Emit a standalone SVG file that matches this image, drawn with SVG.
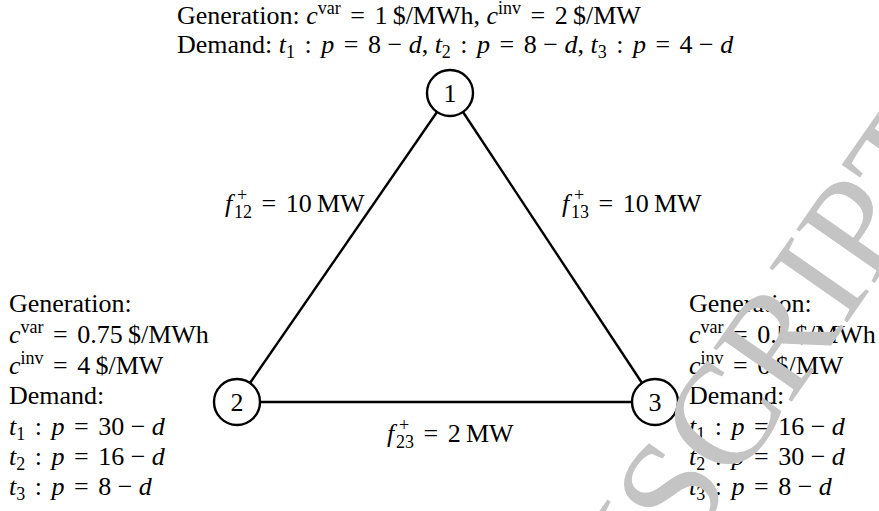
<svg xmlns="http://www.w3.org/2000/svg" width="879" height="511" viewBox="0 0 879 511">
<style>
.t{font-family:"Liberation Serif","Times New Roman",serif;font-size:26px;fill:#000}
.i{font-style:italic}
.s{font-size:18px}
.node circle{fill:#fff;stroke:#000;stroke-width:2.4}
.edges line{stroke:#000;stroke-width:2.4}
.wm{font-family:"Liberation Serif","Times New Roman",serif;font-size:145px;fill:#c4c4c4}
</style>
<rect width="879" height="511" fill="#fff"/>
<g id="edges" class="edges">
<line x1="437" y1="112" x2="250" y2="383"/>
<line x1="463" y1="112" x2="642" y2="383"/>
<line x1="260" y1="402" x2="632" y2="402"/>
</g>
<g id="edge-labels">
<text class="t" x="225" y="212"><tspan class="i">f</tspan><tspan class="s" x="237" dy="-11">+</tspan><tspan class="s" x="234" dy="17">12</tspan><tspan dy="-6" dx="3"> =</tspan><tspan dx="3"> 10&#8201;MW</tspan></text>
<text class="t" x="562" y="212"><tspan class="i">f</tspan><tspan class="s" x="574" dy="-11">+</tspan><tspan class="s" x="571" dy="17">13</tspan><tspan dy="-6" dx="3"> =</tspan><tspan dx="3"> 10&#8201;MW</tspan></text>
<text class="t" x="387" y="442"><tspan class="i">f</tspan><tspan class="s" x="399" dy="-11">+</tspan><tspan class="s" x="396" dy="17">23</tspan><tspan dy="-6" dx="3"> =</tspan><tspan dx="3"> 2&#8201;MW</tspan></text>
</g>
<g id="node1" class="node">
<circle cx="450" cy="93" r="23"/>
<text class="t" x="450" y="102" text-anchor="middle">1</text>
<text class="t" x="177" y="24">Generation: <tspan class="i">c</tspan><tspan class="s" dy="-10">var</tspan><tspan dy="10" dx="3"> =</tspan><tspan dx="3"> 1&#8201;$/MWh, </tspan><tspan class="i">c</tspan><tspan class="s" dy="-10">inv</tspan><tspan dy="10" dx="3"> =</tspan><tspan dx="3"> 2&#8201;$/MW</tspan></text>
<text class="t" x="177" y="53">Demand: <tspan class="i">t</tspan><tspan class="s" dy="5">1</tspan><tspan dy="-5" dx="3"> :</tspan><tspan dx="3"> </tspan><tspan class="i">p</tspan><tspan dx="3"> =</tspan><tspan dx="3"> 8</tspan> − <tspan class="i">d</tspan>, <tspan class="i">t</tspan><tspan class="s" dy="5">2</tspan><tspan dy="-5" dx="3"> :</tspan><tspan dx="3"> </tspan><tspan class="i">p</tspan><tspan dx="3"> =</tspan><tspan dx="3"> 8</tspan> − <tspan class="i">d</tspan>, <tspan class="i">t</tspan><tspan class="s" dy="5">3</tspan><tspan dy="-5" dx="3"> :</tspan><tspan dx="3"> </tspan><tspan class="i">p</tspan><tspan dx="3"> =</tspan><tspan dx="3"> 4</tspan> − <tspan class="i">d</tspan></text>
</g>
<g id="node2" class="node">
<circle cx="237" cy="402" r="23"/>
<text class="t" x="237" y="411" text-anchor="middle">2</text>
<text class="t" x="9" y="312">Generation:</text>
<text class="t" x="9" y="343"><tspan class="i">c</tspan><tspan class="s" dy="-10">var</tspan><tspan dy="10" dx="3"> =</tspan><tspan dx="3"> 0.75&#8201;$/MWh</tspan></text>
<text class="t" x="9" y="374"><tspan class="i">c</tspan><tspan class="s" dy="-10">inv</tspan><tspan dy="10" dx="3"> =</tspan><tspan dx="3"> 4&#8201;$/MW</tspan></text>
<text class="t" x="9" y="404">Demand:</text>
<text class="t" x="9" y="435"><tspan class="i">t</tspan><tspan class="s" dy="5">1</tspan><tspan dy="-5" dx="3"> :</tspan><tspan dx="3"> </tspan><tspan class="i">p</tspan><tspan dx="3"> =</tspan><tspan dx="3"> 30</tspan> − <tspan class="i">d</tspan></text>
<text class="t" x="9" y="465"><tspan class="i">t</tspan><tspan class="s" dy="5">2</tspan><tspan dy="-5" dx="3"> :</tspan><tspan dx="3"> </tspan><tspan class="i">p</tspan><tspan dx="3"> =</tspan><tspan dx="3"> 16</tspan> − <tspan class="i">d</tspan></text>
<text class="t" x="9" y="495"><tspan class="i">t</tspan><tspan class="s" dy="5">3</tspan><tspan dy="-5" dx="3"> :</tspan><tspan dx="3"> </tspan><tspan class="i">p</tspan><tspan dx="3"> =</tspan><tspan dx="3"> 8</tspan> − <tspan class="i">d</tspan></text>
</g>
<g id="node3" class="node">
<circle cx="655" cy="402" r="23"/>
<text class="t" x="655" y="411" text-anchor="middle">3</text>
<text class="t" x="689" y="312">Generation:</text>
<text class="t" x="689" y="343"><tspan class="i">c</tspan><tspan class="s" dy="-10">var</tspan><tspan dy="10" dx="3"> =</tspan><tspan dx="3"> 0.5&#8201;$/MWh</tspan></text>
<text class="t" x="689" y="374"><tspan class="i">c</tspan><tspan class="s" dy="-10">inv</tspan><tspan dy="10" dx="3"> =</tspan><tspan dx="3"> 6&#8201;$/MW</tspan></text>
<text class="t" x="689" y="404">Demand:</text>
<text class="t" x="689" y="435"><tspan class="i">t</tspan><tspan class="s" dy="5">1</tspan><tspan dy="-5" dx="3"> :</tspan><tspan dx="3"> </tspan><tspan class="i">p</tspan><tspan dx="3"> =</tspan><tspan dx="3"> 16</tspan> − <tspan class="i">d</tspan></text>
<text class="t" x="689" y="465"><tspan class="i">t</tspan><tspan class="s" dy="5">2</tspan><tspan dy="-5" dx="3"> :</tspan><tspan dx="3"> </tspan><tspan class="i">p</tspan><tspan dx="3"> =</tspan><tspan dx="3"> 30</tspan> − <tspan class="i">d</tspan></text>
<text class="t" x="689" y="495"><tspan class="i">t</tspan><tspan class="s" dy="5">3</tspan><tspan dy="-5" dx="3"> :</tspan><tspan dx="3"> </tspan><tspan class="i">p</tspan><tspan dx="3"> =</tspan><tspan dx="3"> 8</tspan> − <tspan class="i">d</tspan></text>
</g>
<g id="watermark">
<text class="wm" transform="translate(627,637) rotate(-55)" x="-1124" y="0">ACCEPTED MANUSCRIPT</text>
</g>
</svg>
